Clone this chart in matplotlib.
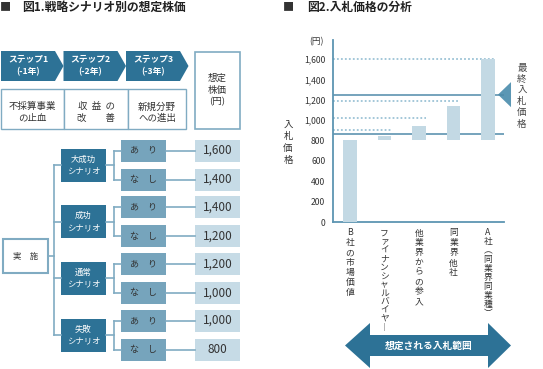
import numpy as np
import matplotlib
matplotlib.use("Agg")
import matplotlib.pyplot as plt
from matplotlib.patches import Polygon, Rectangle
from matplotlib.transforms import blended_transform_factory, offset_copy

plt.rcParams['font.family'] = ['Noto Sans CJK JP', 'DejaVu Sans']

# ---------------- data ----------------
title_left = "図1.戦略シナリオ別の想定株価"
title_right = "図2.入札価格の分析"
steps = ["ステップ1", "ステップ2", "ステップ3"]
step_years = ["(-1年)", "(-2年)", "(-3年)"]
step_notes = [["不採算事業", "の止血"], ["収  益  の", "改　　善"], ["新規分野", "への進出"]]
price_header = ["想定", "株価", "(円)"]
root_label = "実　施"
scenarios = ["大成功", "成功", "通常", "失敗"]
scenario_suffix = "シナリオ"
options = ["あ　り", "な　し"]
scenario_prices = [[1600, 1400], [1400, 1200], [1200, 1000], [1000, 800]]

bid_categories = ["B社の市場価値", "ファイナンシャルバイヤー", "他業界からの参入",
                  "同業界他社", "A社(同業界同業種)"]
bid_low = [0, 800, 800, 800, 800]
bid_high = [800, 840, 940, 1140, 1600]
bid_upper = [None, 905, 1020, 1190, 1600]
final_range = [860, 1250]
y_ticks = [0, 200, 400, 600, 800, 1000, 1200, 1400, 1600]
y_label = "入札価格"
final_label = "最終入札価格"
range_label = "想定される入札範囲"

# ---------------- style ----------------
DARK = '#2d7296'
MID = '#76a4bc'
LIGHT = '#c6dbe6'
LINE = '#80abc2'
BAR = '#c3d9e4'
AXC = '#5d95b2'
SOLID = '#4f8aa9'
DOT = '#9cc3d6'
TRI = '#5b97b4'
TXT = '#333333'

W, H = 543, 369
fig = plt.figure(figsize=(W / 100, H / 100), dpi=100)
fig.patch.set_facecolor('white')

ax0 = fig.add_axes([0, 0, 1, 1])
ax0.set_xlim(0, W)
ax0.set_ylim(H, 0)
ax0.axis('off')


def lines(ax, x, yc, rows, pitch, **kw):
    n = len(rows)
    for j, r in enumerate(rows):
        ax.text(x, yc + (j - (n - 1) / 2) * pitch, r, ha='center', va='center', **kw)


# titles
ax0.text(0, 7, "■", fontsize=8, va='center', ha='left', color=TXT)
ax0.text(22, 7, title_left, fontsize=8.5, fontweight='bold', va='center', ha='left', color='#222')
ax0.text(283, 7, "■", fontsize=8, va='center', ha='left', color=TXT)
ax0.text(307, 7, title_right, fontsize=8.5, fontweight='bold', va='center', ha='left', color='#222')

# steps (chevrons)
for i, (s, yr) in enumerate(zip(steps, step_years)):
    x0 = 1 + i * 62.5
    x1 = x0 + 54
    xt = x1 + 8.5
    ax0.add_patch(Polygon([(x0, 51), (x1, 51), (xt, 66), (x1, 81), (x0, 81)],
                          closed=True, fc=DARK, ec='none'))
    lines(ax0, (x0 + x1) / 2, 65.5, [s, yr], 13, color='white', fontsize=6.3, fontweight='bold')

# note boxes
edges = [1, 64, 128, 186]
for i, note in enumerate(step_notes):
    ax0.add_patch(Rectangle((edges[i], 89), edges[i + 1] - edges[i], 40, fc='white', ec=LINE, lw=1.0))
    lines(ax0, (edges[i] + edges[i + 1]) / 2, 112.5, note, 11.5, color=TXT, fontsize=6.8)

# price header box
ax0.add_patch(Rectangle((195, 52), 45, 77, fc='white', ec=LINE, lw=1.2))
lines(ax0, 217.5, 90, price_header, 12, color=TXT, fontsize=6.8)

# tree
ax0.add_patch(Rectangle((3, 239), 45, 34, fc='white', ec=LINE, lw=1.5))
ax0.text(25.5, 256, root_label, ha='center', va='center', fontsize=6, color=TXT)
centers = [165 + k * 56.7 for k in range(len(scenarios))]
ax0.plot([48, 54], [256, 256], color=LINE, lw=1.2)
ax0.plot([54, 54], [centers[0], centers[-1]], color=LINE, lw=1.2)
for k, (sc, prices) in enumerate(zip(scenarios, scenario_prices)):
    c = centers[k]
    ax0.plot([54, 61], [c, c], color=LINE, lw=1.2)
    ax0.add_patch(Rectangle((61, c - 16.5), 45, 33, fc=DARK, ec='none'))
    lines(ax0, 83.5, c, [sc, scenario_suffix], 12, color='white', fontsize=6)
    ax0.plot([106, 114], [c, c], color=LINE, lw=1.2)
    ax0.plot([114, 114], [c - 14.5, c + 14.5], color=LINE, lw=1.2)
    for j, (opt, p) in enumerate(zip(options, prices)):
        yc = c - 14.5 + j * 29
        ax0.plot([114, 121], [yc, yc], color=LINE, lw=1.2)
        ax0.add_patch(Rectangle((121, yc - 11), 45, 22, fc=MID, ec='none'))
        ax0.text(143.5, yc, opt, ha='center', va='center', fontsize=6.5, color=TXT)
        ax0.plot([166, 195], [yc, yc], color=LINE, lw=1.2)
        ax0.add_patch(Rectangle((195, yc - 11), 45, 22, fc=LIGHT, ec='none'))
        ax0.text(217.5, yc, f"{p:,}", ha='center', va='center', fontsize=8.5, color=TXT)

# ---------------- bar chart ----------------
ax = fig.add_axes([333 / W, 1 - 222 / H, 171 / W, 182 / H])
ax.set_facecolor('none')
xs = np.arange(len(bid_categories))
ax.set_xlim(-0.49, 4.46)
ax.set_ylim(0, 1786)
heights = np.array(bid_high) - np.array(bid_low)
ax.bar(xs, heights, bottom=bid_low, width=0.4, color=BAR, zorder=3)
for i, u in enumerate(bid_upper):
    if u is None:
        continue
    ax.plot([-0.49, xs[i] + 0.2], [u, u], ls=(0, (1, 1.2)), color=DOT, lw=1.3, zorder=1)
for v in final_range:
    ax.axhline(v, color=SOLID, lw=1.1, zorder=2)

for side in ['top', 'right']:
    ax.spines[side].set_visible(False)
for side in ['left', 'bottom']:
    ax.spines[side].set_color(AXC)
    ax.spines[side].set_linewidth(1.3)
ax.set_xticks([])
ax.set_yticks(y_ticks)
ax.set_yticklabels([f"{v:,}" for v in y_ticks])
ax.tick_params(axis='y', length=0, pad=5.5, labelsize=6.2, labelcolor=TXT)

ax.text(-0.094, 0.989, "(円)", transform=ax.transAxes, ha='center', va='center', fontsize=6.2, color=TXT)

VMAP = {'ー': '︱', '(': '︵', ')': '︶'}


def vtext(x, y, s, pitch, transform, **kw):
    for j, ch in enumerate(s):
        t = offset_copy(transform, fig=fig, y=-pitch * j * 0.72, units='points')
        ax.text(x, y, VMAP.get(ch, ch), transform=t, ha='center', va='center', clip_on=False, **kw)


vtext(-0.263, 0.533, y_label, 11.7, ax.transAxes, fontsize=6.8, color=TXT)
vtext(1.105, 0.846, final_label, 11.2, ax.transAxes, fontsize=6.8, color='#444')

btrans = blended_transform_factory(ax.transData, ax.transAxes)
pitches = [9.9, 8.6, 9.8, 10.0, 8.9]
for i, (lab, pt) in enumerate(zip(bid_categories, pitches)):
    vtext(xs[i], -0.060, lab, pt, btrans, fontsize=6.3, color=TXT)

# triangle marker for final price
tri_trans = blended_transform_factory(ax.transAxes, ax.transData)
ax.add_patch(Polygon([(0.965, final_range[1]), (1.041, final_range[1] + 123), (1.041, final_range[1] - 123)],
                     closed=True, fc=TRI, ec='none', transform=tri_trans, clip_on=False))

# bottom range arrow
ax0.add_patch(Polygon([(345, 345.5), (370, 323), (370, 335), (488, 335), (488, 323), (511, 345.5),
                       (488, 368), (488, 356), (370, 356), (370, 368)],
                      closed=True, fc=DARK, ec='none'))
ax0.text(429, 345.5, range_label, ha='center', va='center', fontsize=7, fontweight='bold', color='white')

fig.savefig("out.png", dpi=100)
